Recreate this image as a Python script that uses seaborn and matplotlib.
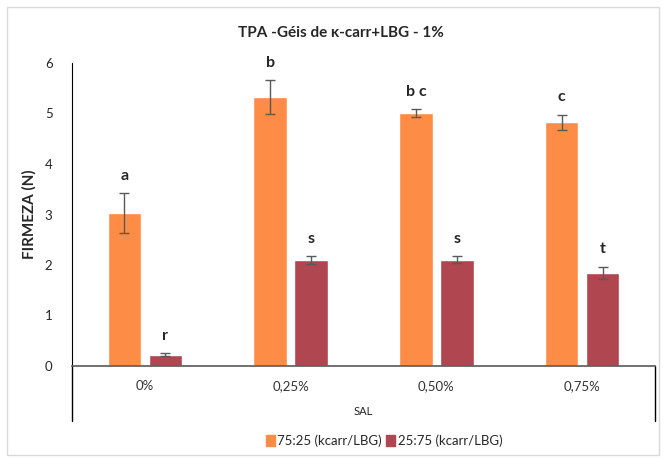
import matplotlib
matplotlib.use("Agg")
import matplotlib.pyplot as plt
import pandas as pd
import seaborn as sns
from matplotlib.patches import Rectangle

# Data
sal = ["0%", "0,25%", "0,50%", "0,75%"]
series = ["75:25 (kcarr/LBG)", "25:75 (kcarr/LBG)"]
firmeza_7525 = [3.03, 5.33, 5.01, 4.83]
firmeza_2575 = [0.22, 2.10, 2.10, 1.85]
err_7525 = [0.40, 0.33, 0.07, 0.15]
err_2575 = [0.03, 0.08, 0.07, 0.12]
letters_7525 = ["a", "b", "b c", "c"]
letters_2575 = ["r", "s", "s", "t"]

df = pd.DataFrame({
    "sal": sal * 2,
    "serie": [series[0]] * 4 + [series[1]] * 4,
    "firmeza": firmeza_7525 + firmeza_2575,
    "err": err_7525 + err_2575,
    "letra": letters_7525 + letters_2575,
})

sns.set_style("white")
plt.rcParams["font.family"] = ["Lato", "DejaVu Sans"]

fig = plt.figure(figsize=(6.66, 4.59), dpi=100)
ax = fig.add_axes([72 / 666, 1 - 366 / 459, (655 - 72) / 666, (366 - 63) / 459])

palette = {series[0]: "#FD8C46", series[1]: "#B04650"}
sns.barplot(data=df, x="sal", y="firmeza", hue="serie", order=sal,
            hue_order=series, palette=palette, width=0.56, gap=0.18,
            saturation=1, errorbar=None, legend=False, ax=ax)

# error bars + significance letters at each bar centre
bars = [p for p in ax.patches if p.get_height() > 0]
for bar, (_, row) in zip(bars, df.iterrows()):
    xc = bar.get_x() + bar.get_width() / 2
    ax.errorbar(xc, row["firmeza"], yerr=row["err"], fmt="none",
                ecolor="#595959", elinewidth=1, capsize=3.5, capthick=1)
    ax.text(xc, row["firmeza"] + row["err"] + 0.2, row["letra"],
            ha="center", va="bottom", fontsize=11.5, fontweight="bold")

ax.set_ylim(0, 6)
ax.set_xlim(-0.5, 3.5)
ax.set_yticks(range(0, 7))
ax.tick_params(axis="y", length=0, labelsize=9.5, pad=14)
ax.tick_params(axis="x", length=0, labelsize=9.5, pad=10, colors="#333333")
ax.set_ylabel("FIRMEZA (N)", fontsize=11, fontweight="bold", labelpad=6)
ax.set_xlabel("SAL", fontsize=8, labelpad=10)
sns.despine(ax=ax, top=True, right=True)
ax.spines["left"].set_color("black")
ax.spines["bottom"].set_color("#595959")
ax.spines["bottom"].set_linewidth(1.2)

# category table lines below the axis
for xa in (0, 1):
    ax.plot([xa, xa], [0, -0.18], transform=ax.transAxes, color="black",
            lw=1, clip_on=False)

fig.text(341 / 666, 1 - 33 / 459, "TPA -Géis de κ-carr+LBG - 1%",
         ha="center", va="center", fontsize=11, fontweight="bold")

handles = [Rectangle((0, 0), 1, 1, color=palette[s]) for s in series]
fig.legend(handles, series, loc="center", bbox_to_anchor=(384 / 666, 1 - 441 / 459),
           ncol=2, frameon=False, fontsize=9.5, handlelength=0.7, handleheight=0.9,
           handletextpad=0.2, columnspacing=0.3)

fig.patches.append(Rectangle((7 / 666, 4 / 459), 652 / 666, 448 / 459,
                             transform=fig.transFigure, fill=False,
                             edgecolor="#D9D9D9", lw=1))

fig.savefig("out.png", dpi=100)
